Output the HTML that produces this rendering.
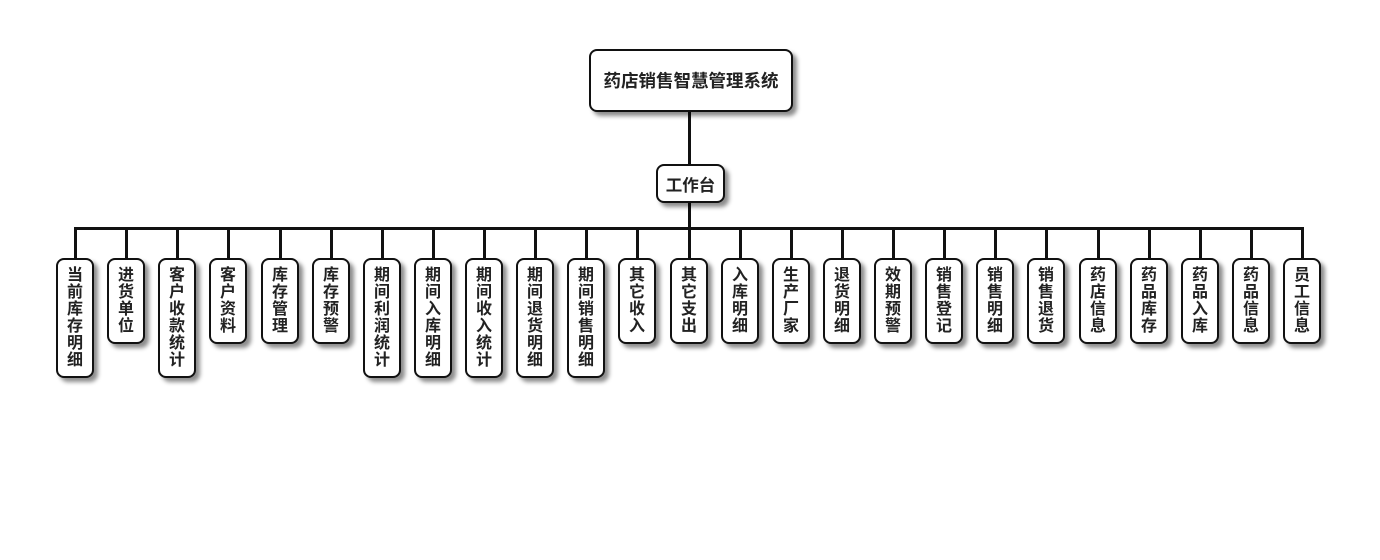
<!DOCTYPE html>
<html><head><meta charset="utf-8"><style>
body{margin:0;width:1380px;height:560px;background:#fff;position:relative;overflow:hidden;font-family:"Liberation Sans","Noto Sans CJK SC",sans-serif;font-weight:bold;color:#222}
.b{position:absolute;background:#fff;border:2px solid #111;border-radius:8px;box-shadow:4px 4px 4px rgba(0,0,0,.45);box-sizing:border-box;display:flex;align-items:center;justify-content:center}
.l{position:absolute;background:#111}
.v{width:38px;top:258px;font-size:16px;line-height:17px;text-align:center;flex-direction:column;padding:0 10px;word-break:break-all}
</style></head><body>
<div class="l" style="left:688px;top:110px;width:3px;height:55px"></div>
<div class="l" style="left:688px;top:200px;width:3px;height:30px"></div>
<div class="l" style="left:74px;top:227px;width:1230px;height:3px"></div>
<div class="b" style="left:589px;top:49px;width:204px;height:63px;font-size:17.5px">药店销售智慧管理系统</div>
<div class="b" style="left:656px;top:164px;width:69px;height:39px;font-size:16.5px">工作台</div>
<div id="c"></div>
<script>
var t=["当前库存明细","进货单位","客户收款统计","客户资料","库存管理","库存预警","期间利润统计","期间入库明细","期间收入统计","期间退货明细","期间销售明细","其它收入","其它支出","入库明细","生产厂家","退货明细","效期预警","销售登记","销售明细","销售退货","药店信息","药品库存","药品入库","药品信息","员工信息"];
var h="";
for(var i=0;i<t.length;i++){var cx=Math.round(75+i*51.125);
h+='<div class="l" style="left:'+(cx-1)+'px;top:228px;width:3px;height:31px"></div>';
h+='<div class="b v" style="left:'+(cx-19)+'px;height:'+(17*t[i].length+18)+'px">'+t[i]+'</div>';}
document.getElementById("c").innerHTML=h;
</script>
</body></html>
